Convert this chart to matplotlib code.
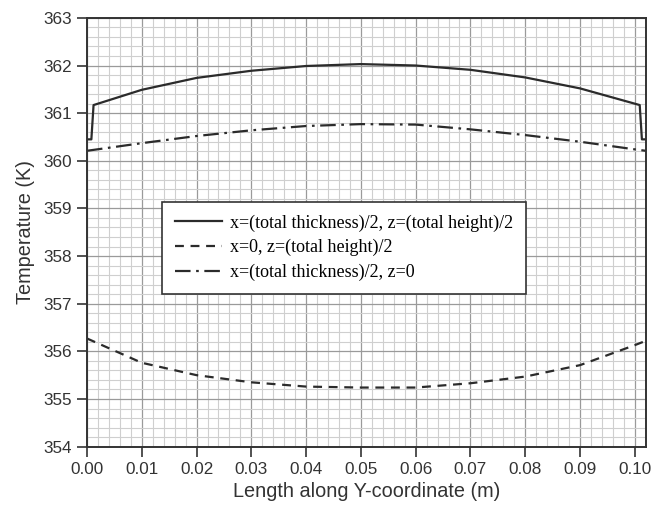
import matplotlib
matplotlib.use("Agg")
import matplotlib.pyplot as plt
from matplotlib.ticker import MultipleLocator

# values
x_mid = [0.0, 0.0008, 0.0012, 0.01, 0.02, 0.03, 0.04, 0.05, 0.06, 0.07, 0.08, 0.09, 0.1009, 0.1013, 0.102]
t_mid = [360.45, 360.45, 361.17, 361.49, 361.74, 361.89, 361.99, 362.03, 362.0, 361.91, 361.75, 361.52, 361.17, 360.45, 360.45]

x_curve = [0.0, 0.01, 0.02, 0.03, 0.04, 0.05, 0.06, 0.07, 0.08, 0.09, 0.10, 0.102]
t_edge = [356.27, 355.76, 355.50, 355.35, 355.26, 355.24, 355.24, 355.33, 355.47, 355.71, 356.13, 356.22]
t_bottom = [360.21, 360.37, 360.52, 360.64, 360.73, 360.77, 360.76, 360.66, 360.54, 360.40, 360.24, 360.21]

labels = [
    "x=(total thickness)/2, z=(total height)/2",
    "x=0, z=(total height)/2",
    "x=(total thickness)/2, z=0",
]

plt.rcParams['font.family'] = ['Liberation Sans', 'DejaVu Sans']

fig = plt.figure(figsize=(6.64, 5.11), dpi=100)
ax = fig.add_axes([0.131, 0.126, 0.8415, 0.839])

lc = '#2b2b2b'
ax.plot(x_mid, t_mid, color=lc, lw=1.6, ls='-', label=labels[0])
ax.plot(x_curve, t_edge, color=lc, lw=1.6, ls=(0, (4, 3)), label=labels[1])
ax.plot(x_curve, t_bottom, color=lc, lw=1.6, ls=(0, (7, 2.5, 1.2, 2.5)), label=labels[2])

ax.set_xlim(0, 0.102)
ax.set_ylim(354, 363)
ax.xaxis.set_major_locator(MultipleLocator(0.01))
ax.xaxis.set_minor_locator(MultipleLocator(0.002))
ax.yaxis.set_major_locator(MultipleLocator(1))
ax.yaxis.set_minor_locator(MultipleLocator(0.2))
ax.xaxis.set_major_formatter(plt.FormatStrFormatter('%.2f'))

ax.grid(which='major', color='#9a9a9a', lw=0.9)
ax.grid(which='minor', color='#cfcfcf', lw=0.8)
ax.set_axisbelow(True)

ax.tick_params(which='major', direction='out', length=7, width=1.2, labelsize=12.3, colors='#333333', pad=4)
ax.tick_params(which='minor', length=0)
ax.tick_params(top=False, right=False)
for s in ax.spines.values():
    s.set_color('#333333')
    s.set_linewidth(1.4)

ax.set_xlabel("Length along Y-coordinate (m)", fontsize=14.3, color='#333333', labelpad=4)
ax.set_ylabel("Temperature (K)", fontsize=14.3, color='#333333', labelpad=6)

leg = ax.legend(loc='upper left', bbox_to_anchor=(0.135, 0.5715), borderaxespad=0, frameon=True, fancybox=False,
                edgecolor='#333333', framealpha=1, handlelength=2.6, handletextpad=0.45,
                borderpad=0.7, labelspacing=0.42, prop={'family': 'Liberation Serif', 'size': 13})
leg.get_frame().set_linewidth(1.2)

fig.savefig("out.png", dpi=100)
